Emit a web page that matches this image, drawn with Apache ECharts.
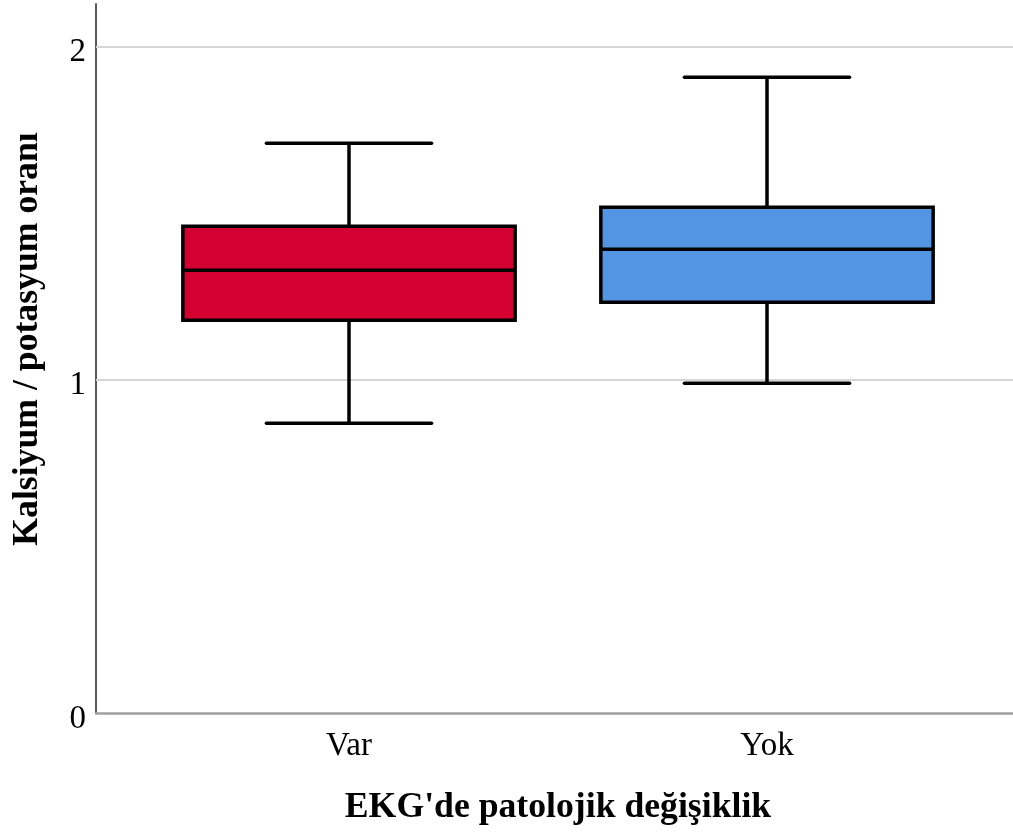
<!DOCTYPE html>
<html>
<head>
<meta charset="utf-8">
<script src="https://cdn.jsdelivr.net/npm/echarts@6/dist/echarts.min.js"></script>
<style>
  html, body { margin: 0; padding: 0; background: #ffffff; }
  #chart { width: 1013px; height: 834px; }
</style>
</head>
<body>
<div id="chart"></div>
<script>
// ---- data ----
const categories = ['Var', 'Yok'];
const whiskerLow = [0.870, 0.990];
const quartile1 = [1.179, 1.233];
const medians = [1.329, 1.392];
const quartile3 = [1.461, 1.518];
const whiskerHigh = [1.710, 1.908];
const boxColors = ['#D50032', '#5394E3'];
const gridValues = [1, 2];
const yMin = 0;
const yMax = 2.128;
const xTitle = "EKG'de patolojik değişiklik";
const yTitle = 'Kalsiyum / potasyum oranı';

const seriesData = categories.map((c, i) => [i, whiskerLow[i], quartile1[i], medians[i], quartile3[i], whiskerHigh[i]]);

const serif = "'Liberation Serif', 'DejaVu Serif', serif";

const chart = echarts.init(document.getElementById('chart'), null, { renderer: 'canvas' });

const option = {
  backgroundColor: '#ffffff',
  animation: false,
  grid: [
    { left: 96, right: 0, top: 4, bottom: 121 },
    { left: 140, width: 836, top: 4, bottom: 121 }
  ],
  xAxis: [
    {
      gridIndex: 0, type: 'value', min: 0, max: 1,
      axisLine: { show: true, lineStyle: { color: '#a0a0a0', width: 2.5 } },
      axisTick: { show: false }, axisLabel: { show: false }, splitLine: { show: false }
    },
    {
      gridIndex: 1, type: 'category', data: categories,
      axisLine: { show: false }, axisTick: { show: false }, splitLine: { show: false },
      axisLabel: { color: '#000', fontFamily: serif, fontSize: 33, margin: 17 },
      name: xTitle, nameLocation: 'middle', nameGap: 77,
      nameTextStyle: { color: '#000', fontFamily: serif, fontSize: 35.7, fontWeight: 'bold' }
    }
  ],
  yAxis: [
    {
      gridIndex: 0, type: 'value', min: yMin, max: yMax, interval: 1,
      axisLine: { show: true, lineStyle: { color: '#5a5a5a', width: 2 } },
      axisTick: { show: false }, splitLine: { show: false },
      axisLabel: {
        color: '#000', fontFamily: serif, fontSize: 33, margin: 10,
        verticalAlign: 'top', lineHeight: 12,
        showMaxLabel: false,
        formatter: v => (Math.abs(v - Math.round(v)) < 1e-6 ? String(Math.round(v)) : '')
      }
    },
    {
      gridIndex: 1, type: 'value', min: yMin, max: yMax, show: false
    }
  ],
  graphic: [
    {
      type: 'text', x: 28, y: 339, rotation: Math.PI / 2,
      style: {
        text: yTitle, fill: '#000', font: "bold 35.7px 'Liberation Serif', serif",
        textAlign: 'center', textVerticalAlign: 'middle'
      }
    }
  ],
  series: [
    {
      type: 'line', xAxisIndex: 0, yAxisIndex: 0, data: [], silent: true,
      markLine: {
        silent: true, symbol: 'none', animation: false,
        label: { show: false },
        lineStyle: { color: '#d6d6d6', width: 2, type: 'solid' },
        data: gridValues.map(v => ({ yAxis: v }))
      },
      z: 1
    },
    {
      type: 'custom', xAxisIndex: 1, yAxisIndex: 1, data: seriesData, z: 5,
      encode: { x: 0, y: [1, 2, 3, 4, 5] },
      renderItem: function (params, api) {
        const i = api.value(0);
        const lo = api.coord([i, api.value(1)]);
        const b1 = api.coord([i, api.value(2)]);
        const md = api.coord([i, api.value(3)]);
        const b3 = api.coord([i, api.value(4)]);
        const hi = api.coord([i, api.value(5)]);
        const band = api.size([1, 0])[0];
        const bw = band * 0.795;
        const cw = band * 0.395;
        const x = lo[0];
        const lw = 3.5;
        const ls = { stroke: '#000', lineWidth: lw, lineCap: 'round' };
        return {
          type: 'group',
          children: [
            { type: 'line', shape: { x1: x, y1: lo[1], x2: x, y2: b1[1] }, style: { stroke: '#000', lineWidth: lw } },
            { type: 'line', shape: { x1: x, y1: b3[1], x2: x, y2: hi[1] }, style: { stroke: '#000', lineWidth: lw } },
            { type: 'line', shape: { x1: x - cw / 2, y1: lo[1], x2: x + cw / 2, y2: lo[1] }, style: ls },
            { type: 'line', shape: { x1: x - cw / 2, y1: hi[1], x2: x + cw / 2, y2: hi[1] }, style: ls },
            { type: 'rect', shape: { x: x - bw / 2, y: b3[1], width: bw, height: b1[1] - b3[1] },
              style: { fill: boxColors[params.dataIndex], stroke: '#000', lineWidth: lw } },
            { type: 'line', shape: { x1: x - bw / 2, y1: md[1], x2: x + bw / 2, y2: md[1] }, style: { stroke: '#000', lineWidth: lw } }
          ]
        };
      }
    }
  ]
};

chart.setOption(option);
</script>
</body>
</html>
